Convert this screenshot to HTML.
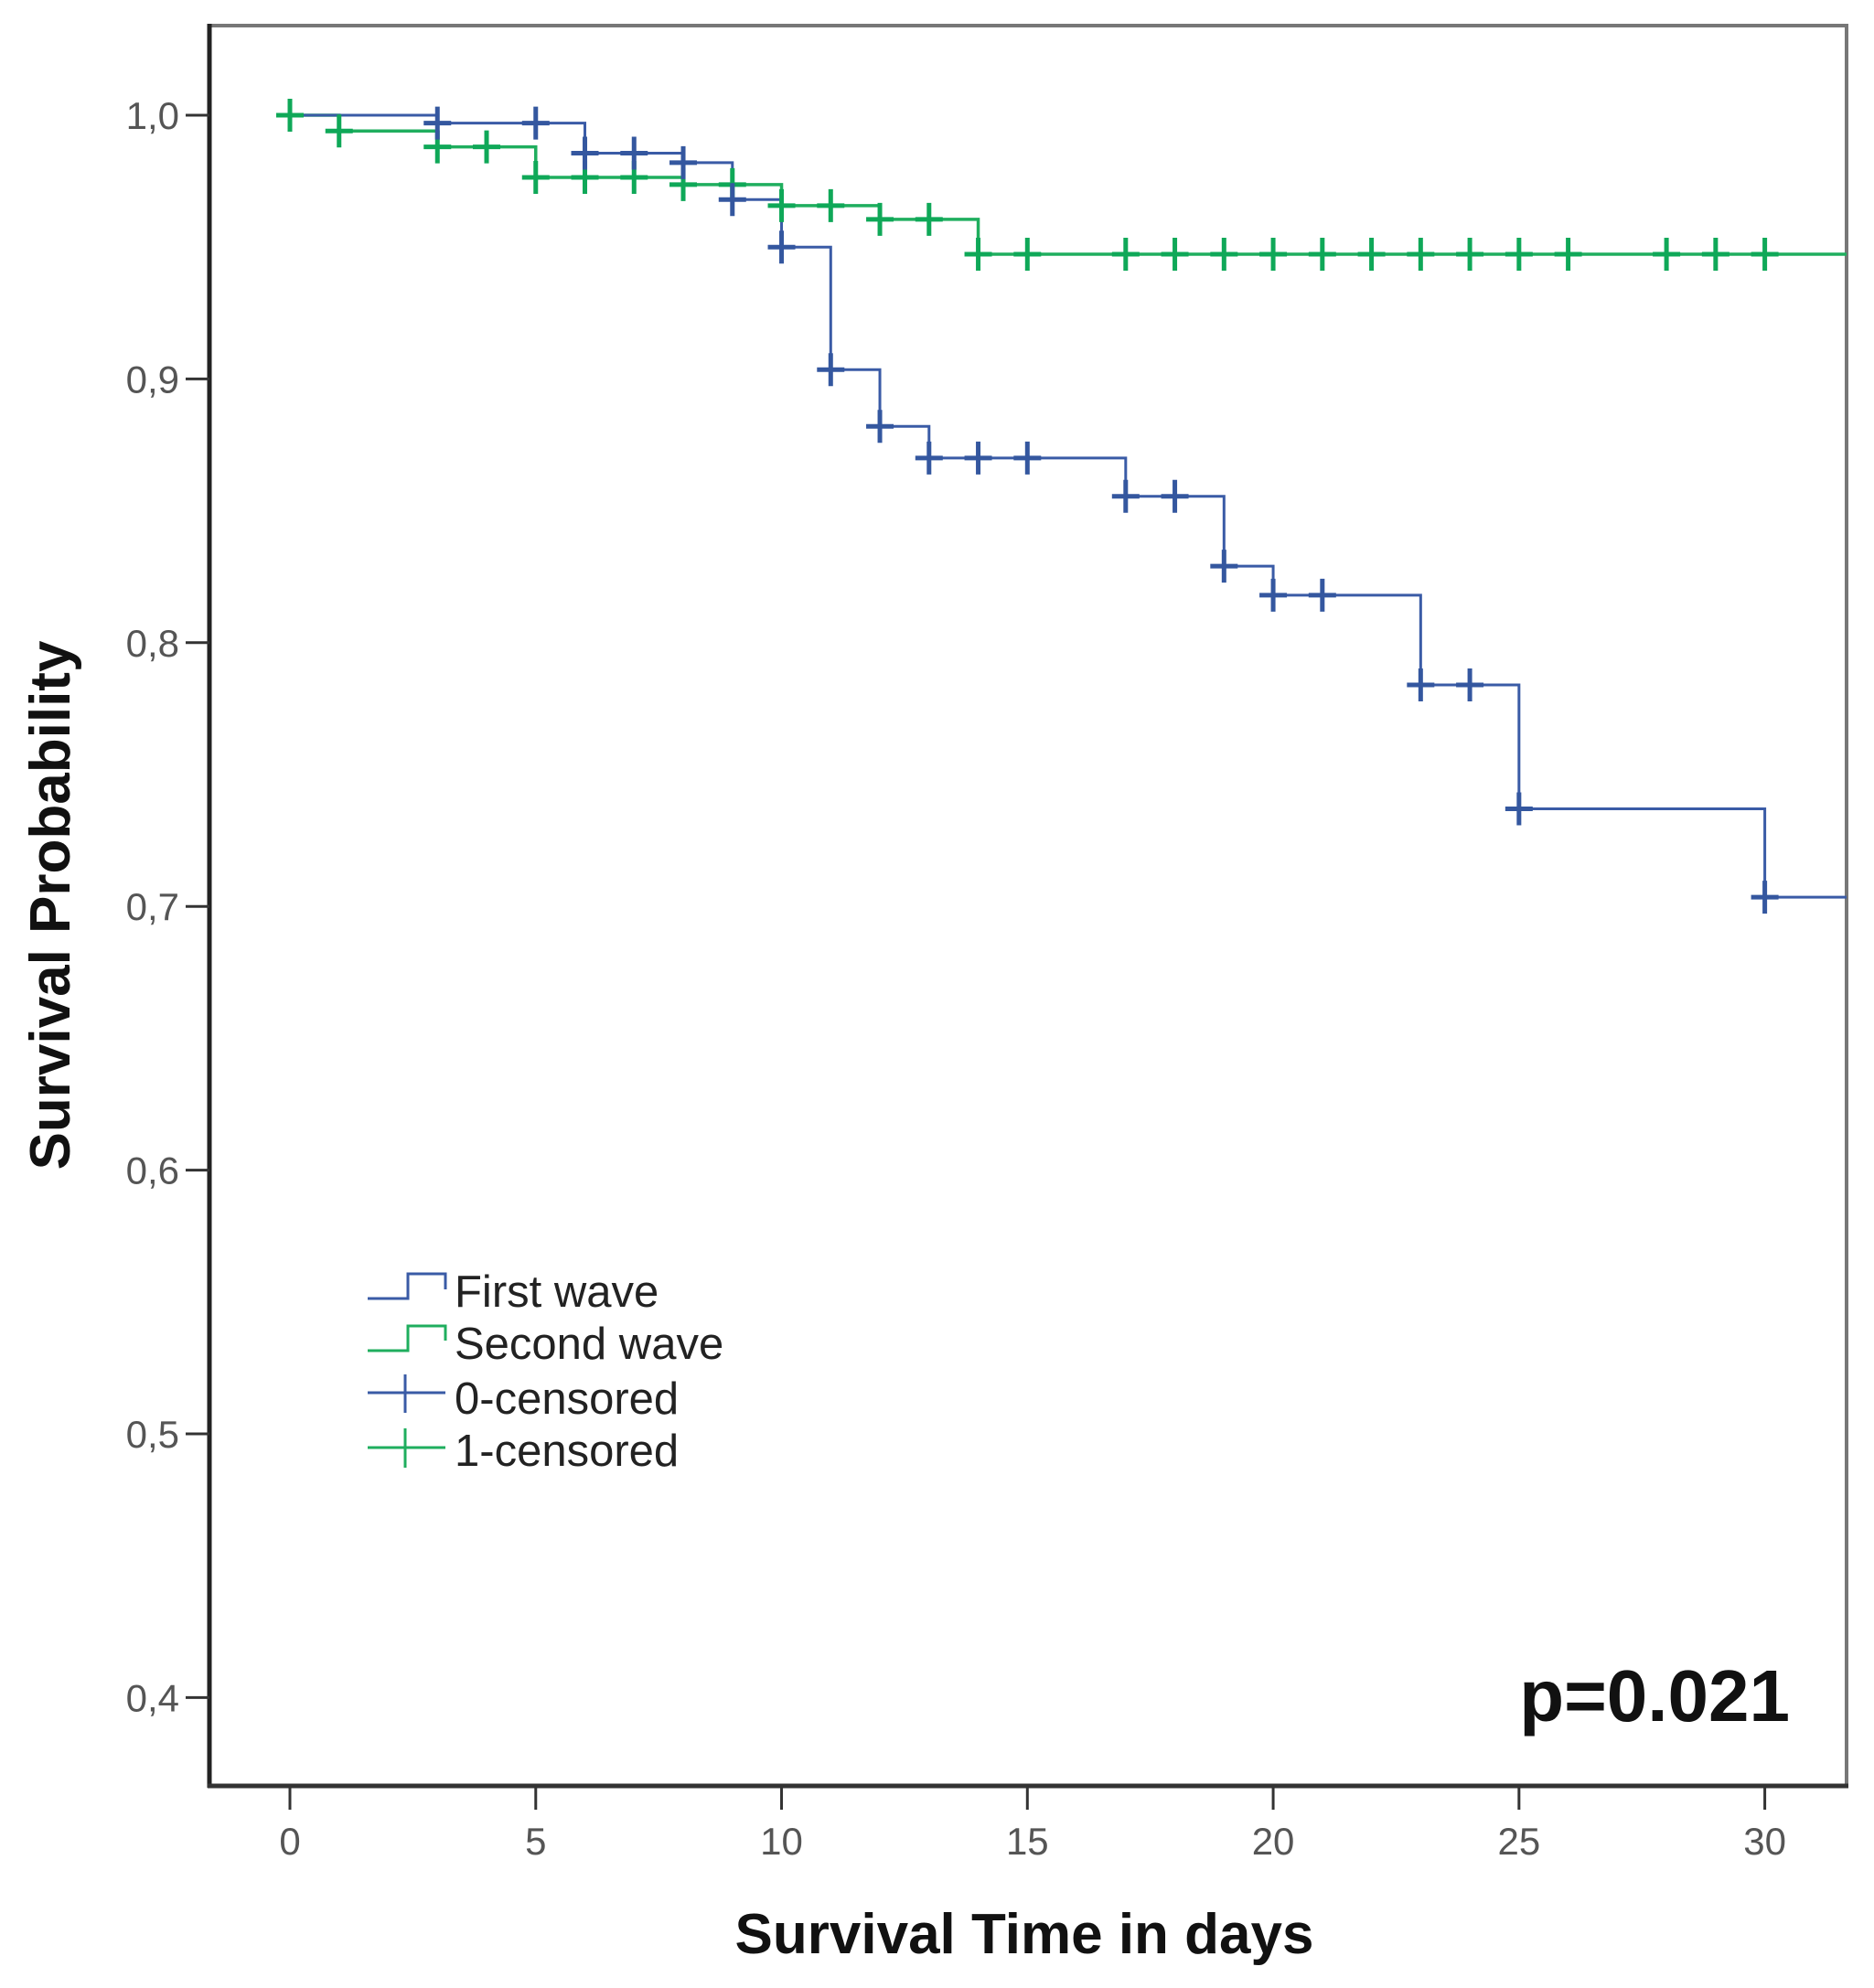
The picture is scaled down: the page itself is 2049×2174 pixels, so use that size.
<!DOCTYPE html>
<html><head><meta charset="utf-8"><style>
html,body{margin:0;padding:0;background:#fff;}
svg{display:block;}
text{font-family:"Liberation Sans",sans-serif;}
</style></head><body>
<svg id="chart" width="2049" height="2174" viewBox="0 0 2049 2174" xmlns="http://www.w3.org/2000/svg">
<rect x="0" y="0" width="2049" height="2174" fill="#fff"/>
<g id="plot"></g>
<text x="1957" y="1882" font-size="80" font-weight="bold" text-anchor="end" fill="#111">p=0.021</text>
<text x="1120" y="2136" font-size="62" font-weight="bold" text-anchor="middle" fill="#111">Survival Time in days</text>
<text x="0" y="0" transform="translate(76,990) rotate(-90)" font-size="62" font-weight="bold" text-anchor="middle" fill="#111">Survival Probability</text>
<g>
  <path d="M402 1420 H446 V1393 H487 V1410" fill="none" stroke="#3a5ba6" stroke-width="3"/>
  <text x="497" y="1429" font-size="49" fill="#222">First wave</text>
  <path d="M402 1477 H446 V1450 H487 V1466" fill="none" stroke="#1fae5e" stroke-width="3"/>
  <text x="497" y="1486" font-size="49" fill="#222">Second wave</text>
  <path d="M402 1523 H487 M443 1503 V1545" fill="none" stroke="#3a5ba6" stroke-width="3"/>
  <text x="497" y="1546" font-size="49" fill="#222">0-censored</text>
  <path d="M402 1583 H487 M443 1562 V1605" fill="none" stroke="#1fae5e" stroke-width="3"/>
  <text x="497" y="1603" font-size="49" fill="#222">1-censored</text>
</g>
</svg>
<script>
const xTicks = [0, 5, 10, 15, 20, 25, 30];
const yTicks = [1.0, 0.9, 0.8, 0.7, 0.6, 0.5, 0.4];
const yTickLabels = ["1,0", "0,9", "0,8", "0,7", "0,6", "0,5", "0,4"];
const firstTimes = [0, 3, 6, 8, 9, 10, 11, 12, 13, 17, 19, 20, 23, 25, 30];
const firstSurv = [1.0, 0.997, 0.9856, 0.982, 0.968, 0.950, 0.9035, 0.882, 0.870, 0.8555, 0.829, 0.818, 0.784, 0.737, 0.7035];
const firstCensor = [3, 5, 6, 7, 8, 9, 10, 11, 12, 13, 14, 15, 17, 18, 19, 20, 21, 23, 24, 25, 30];
const secondTimes = [0, 1, 3, 5, 8, 10, 12, 14];
const secondSurv = [1.0, 0.994, 0.988, 0.9764, 0.9737, 0.9657, 0.9605, 0.9473];
const secondCensor = [0, 1, 3, 4, 5, 6, 7, 8, 9, 10, 11, 12, 13, 14, 15, 17, 18, 19, 20, 21, 22, 23, 24, 25, 26, 28, 29, 30];

const L = 229, T = 28, R = 2019, B = 1953;
const xs = d => 317 + d * 38.8 * 1.3854;
const ys = v => 126 + (1 - v) * 2884;
const NS = "http://www.w3.org/2000/svg";
const plot = document.getElementById('plot');
function mk(tag, attrs) {
  const e = document.createElementNS(NS, tag);
  for (const k in attrs) e.setAttribute(k, attrs[k]);
  plot.appendChild(e);
  return e;
}
let e;
e = mk('path', {d: `M${L} ${T} H${R} V${B}`, fill: 'none', stroke: '#777', 'stroke-width': 4});


e = mk('line', {x1: L, y1: T - 2, x2: L, y2: B + 2, stroke: '#222', 'stroke-width': 5});


e = mk('line', {x1: L - 2, y1: B, x2: R + 2, y2: B, stroke: '#333', 'stroke-width': 5});



yTicks.forEach((v, i) => {
  const y = ys(v);
  let t = mk('line', {x1: L - 26, y1: y, x2: L, y2: y, stroke: '#333', 'stroke-width': 3});
  
  
  let l = mk('text', {x: 196, y: y + 15, 'font-size': 42, 'text-anchor': 'end', fill: '#555'});
  l.textContent = yTickLabels[i];
  
  
});
xTicks.forEach(d => {
  const x = xs(d);
  let t = mk('line', {x1: x, y1: B, x2: x, y2: B + 26, stroke: '#333', 'stroke-width': 3});
  
  
  let l = mk('text', {x: x, y: B + 75, 'font-size': 42, 'text-anchor': 'middle', fill: '#555'});
  l.textContent = String(d);
  
  
});

function stepPath(times, surv) {
  let d = `M${xs(times[0])} ${ys(surv[0])}`;
  for (let i = 1; i < times.length; i++) {
    d += ` H${xs(times[i])} V${ys(surv[i])}`;
  }
  d += ` H${R}`;
  return d;
}
function survAt(times, surv, t) {
  let v = surv[0];
  for (let i = 0; i < times.length; i++) if (times[i] <= t) v = surv[i];
  return v;
}
e = mk('path', {d: stepPath(secondTimes, secondSurv), fill: 'none', stroke: '#1fae5e', 'stroke-width': 3.5});


e = mk('path', {d: stepPath(firstTimes, firstSurv), fill: 'none', stroke: '#3a5ba6', 'stroke-width': 3});



function censors(list, times, surv, color, name) {
  list.forEach(t => {
    const x = xs(t), y = ys(survAt(times, surv, t));
    const m = mk('path', {d: `M${x - 15} ${y} H${x + 15} M${x} ${y - 18} V${y + 18}`, stroke: color, 'stroke-width': 5, fill: 'none'});
    
    
  });
}
censors(secondCensor, secondTimes, secondSurv, '#0fa858', 'second-wave-censor-mark');
censors(firstCensor, firstTimes, firstSurv, '#34579f', 'first-wave-censor-mark');
</script>
</body></html>
